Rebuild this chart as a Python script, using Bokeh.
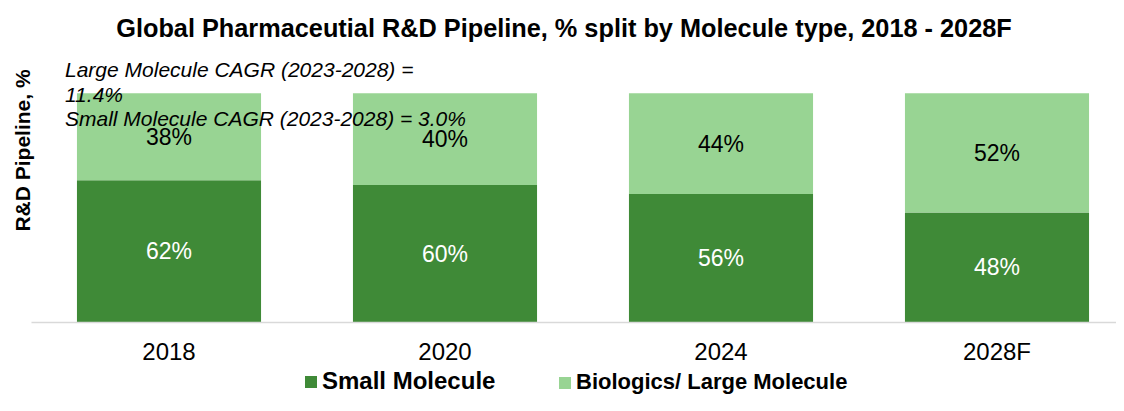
from bokeh.plotting import figure
from bokeh.models import Range1d, FixedTicker, Label, ColumnDataSource, Legend, LegendItem
from bokeh.core.properties import value
from bokeh.embed import file_html
from bokeh.resources import INLINE

# ---- data ----
years = ["2018", "2020", "2024", "2028F"]
small_molecule = [62, 60, 56, 48]
large_molecule = [38, 40, 44, 52]
series_names = ["Small Molecule", "Biologics/ Large Molecule"]
series_colors = ["#3F8A37", "#98D493"]
title_text = "Global Pharmaceutial R&D Pipeline, % split by Molecule type, 2018 - 2028F"
y_title = "R&D Pipeline, %"
notes = ["Large Molecule CAGR (2023-2028) =",
         "11.4%",
         "Small Molecule CAGR (2023-2028) = 3.0%"]

FONT = "Liberation Sans"
W, H = 1116, 395
PX_PER_CAT = 276.0
PX_PER_PCT = 2.293
BASE_Y = 322.0     # pixel row of the 0% baseline
LEFT_X = 30.5      # pixel column of the left category edge

xs = list(range(len(years)))
src = ColumnDataSource(dict(
    x=xs,
    small=small_molecule,
    large=large_molecule,
    small_mid=[s / 2 for s in small_molecule],
    large_mid=[s + l / 2 for s, l in zip(small_molecule, large_molecule)],
    small_txt=[f"{v}%" for v in small_molecule],
    large_txt=[f"{v}%" for v in large_molecule],
))

x0 = -0.5 - LEFT_X / PX_PER_CAT
x1 = x0 + W / PX_PER_CAT
y0 = -(H - BASE_Y) / PX_PER_PCT
y1 = BASE_Y / PX_PER_PCT

p = figure(width=W, height=H, output_backend="svg", toolbar_location=None,
           x_range=Range1d(x0, x1), y_range=Range1d(y0, y1),
           y_axis_location=None,
           min_border_left=0, min_border_right=0, min_border_top=0,
           min_border_bottom=0)
p.outline_line_color = None
p.xgrid.visible = False
p.ygrid.visible = False
p.background_fill_color = "white"
p.border_fill_color = "white"

bars = p.vbar_stack(["small", "large"], x="x", width=0.667, source=src,
                    fill_color=series_colors, line_color=None)

p.text(x="x", y="small_mid", text="small_txt", source=src,
       text_align="center", text_baseline="middle", text_color="white",
       text_font=value(FONT), text_font_size="23px")
p.text(x="x", y="large_mid", text="large_txt", source=src,
       text_align="center", text_baseline="middle", text_color="black",
       text_font=value(FONT), text_font_size="23px")

ax = p.xaxis[0]
ax.fixed_location = 0
ax.bounds = (-0.5, x1)
ax.ticker = FixedTicker(ticks=xs)
ax.major_label_overrides = {i: y for i, y in enumerate(years)}
ax.major_tick_line_color = None
ax.minor_tick_line_color = None
ax.axis_line_color = "#D9D9D9"
ax.axis_line_width = 1.5
ax.major_label_text_font = FONT
ax.major_label_text_font_size = "24px"
ax.major_label_text_color = "black"
ax.major_label_standoff = 9

# one legend per series so each can sit where the reference puts it
for name, rend, loc, fs in zip(series_names, bars, [(303, 0), (557, 0)],
                               ["24px", "22px"]):
    lg = Legend(items=[LegendItem(label=name, renderers=[rend])],
                location=loc, orientation="horizontal",
                glyph_width=15, glyph_height=15, label_standoff=4,
                padding=0, margin=0, border_line_color=None,
                background_fill_alpha=0, label_text_font=FONT,
                label_text_font_size=fs, label_text_font_style="bold",
                label_text_color="black")
    p.add_layout(lg)


def px_to_x(px):
    return x0 + px / PX_PER_CAT


def px_to_y(py):
    return (BASE_Y - py) / PX_PER_PCT


LABEL_SHIFT = 9  # Bokeh Label baseline sits this many px below the anchor

p.add_layout(Label(x=px_to_x(563.5), y=px_to_y(36 - LABEL_SHIFT),
                   text=title_text, text_align="center",
                   text_baseline="alphabetic", text_font=FONT,
                   text_font_size="25.3px", text_font_style="bold",
                   text_color="black"))

p.add_layout(Label(x=px_to_x(31 - LABEL_SHIFT), y=px_to_y(150), text=y_title,
                   angle=1.5707963, text_align="center",
                   text_baseline="alphabetic", text_font=FONT,
                   text_font_size="21px", text_font_style="bold",
                   text_color="black"))

for t, py in zip(notes, [77.7, 102.3, 126.7]):
    p.add_layout(Label(x=px_to_x(64.5), y=px_to_y(py - 8.5), text=t,
                       text_align="left", text_baseline="alphabetic",
                       text_font=FONT, text_font_size="21px",
                       text_font_style="italic", text_color="black"))

open("out.html", "w").write(file_html(p, INLINE))
